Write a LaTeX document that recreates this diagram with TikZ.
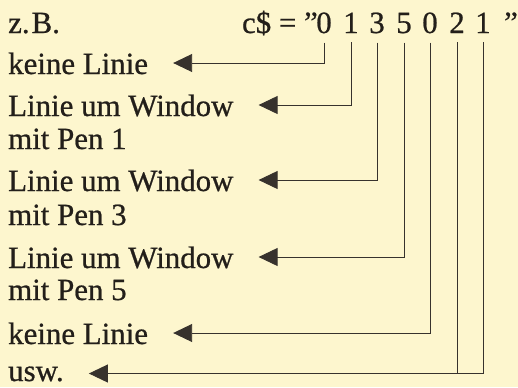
\documentclass[tikz,border=0pt]{standalone}
\usepackage{fontspec}
\setmainfont[FakeBold=0.7]{Liberation Serif}
\usetikzlibrary{arrows.meta}
\definecolor{paper}{RGB}{253,246,206}
\definecolor{ink}{RGB}{35,31,26}
\definecolor{rule}{RGB}{55,50,45}
\tikzset{
  txt/.style={inner sep=0pt, anchor=base west, text=ink, font=\fontsize{31}{33}\selectfont},
  lbl/.style={txt, text height=22bp, text depth=0pt},
  digit/.style={inner xsep=0pt, inner ysep=9bp, anchor=base, text=ink, font=\fontsize{31}{33}\selectfont},
  wire/.style={draw=rule, line width=0.9bp},
  conn/.style={wire, -{Triangle[length=19bp, width=18bp]}, shorten >=25bp}
}
\begin{document}
\begin{tikzpicture}[x=1bp, y=-1bp]
\fill[paper] (0,0) rectangle (518,387);
\useasboundingbox (0,0) rectangle (518,387);
% top row
\node[txt] (zb) at (8,33) {z.\kern2bp B.};
\node[txt, anchor=base east] (pre) at (318,33) {c\$ = ”};
\node[digit] (d1) at (324,33) {0};
\node[digit] (d2) at (351,33) {1};
\node[digit] (d3) at (377,33) {3};
\node[digit] (d4) at (404,33) {5};
\node[digit] (d5) at (430,33) {0};
\node[digit] (d6) at (457,33) {2};
\node[digit] (d7) at (483,33) {1};
\node[digit] (q) at (511,33) {”};
% labels
\node[lbl] (l1) at (8,74) {keine Linie};
\node[lbl] (l2) at (8,116) {Linie um Window};
\node[txt] (l2b) at (8,149) {mit Pen 1};
\node[lbl] (l3) at (8,191) {Linie um Window};
\node[txt] (l3b) at (8,225) {mit Pen 3};
\node[lbl] (l4) at (8,268) {Linie um Window};
\node[txt] (l4b) at (8,300) {mit Pen 5};
\node[lbl] (l5) at (8,344) {keine Linie};
\node[lbl, text height=15bp] (l6) at (8,381) {usw.};
% connectors
\draw[conn] (d1.south) |- (l1.east);
\draw[conn] (d2.south) |- (l2.east);
\draw[conn] (d3.south) |- (l3.east);
\draw[conn] (d4.south) |- (l4.east);
\draw[conn] (d5.south) |- (l5.east);
\draw[wire] (d6.south) -- (d6.south |- l6.east);
\draw[conn] (d7.south) |- (l6.east);
\end{tikzpicture}
\end{document}
